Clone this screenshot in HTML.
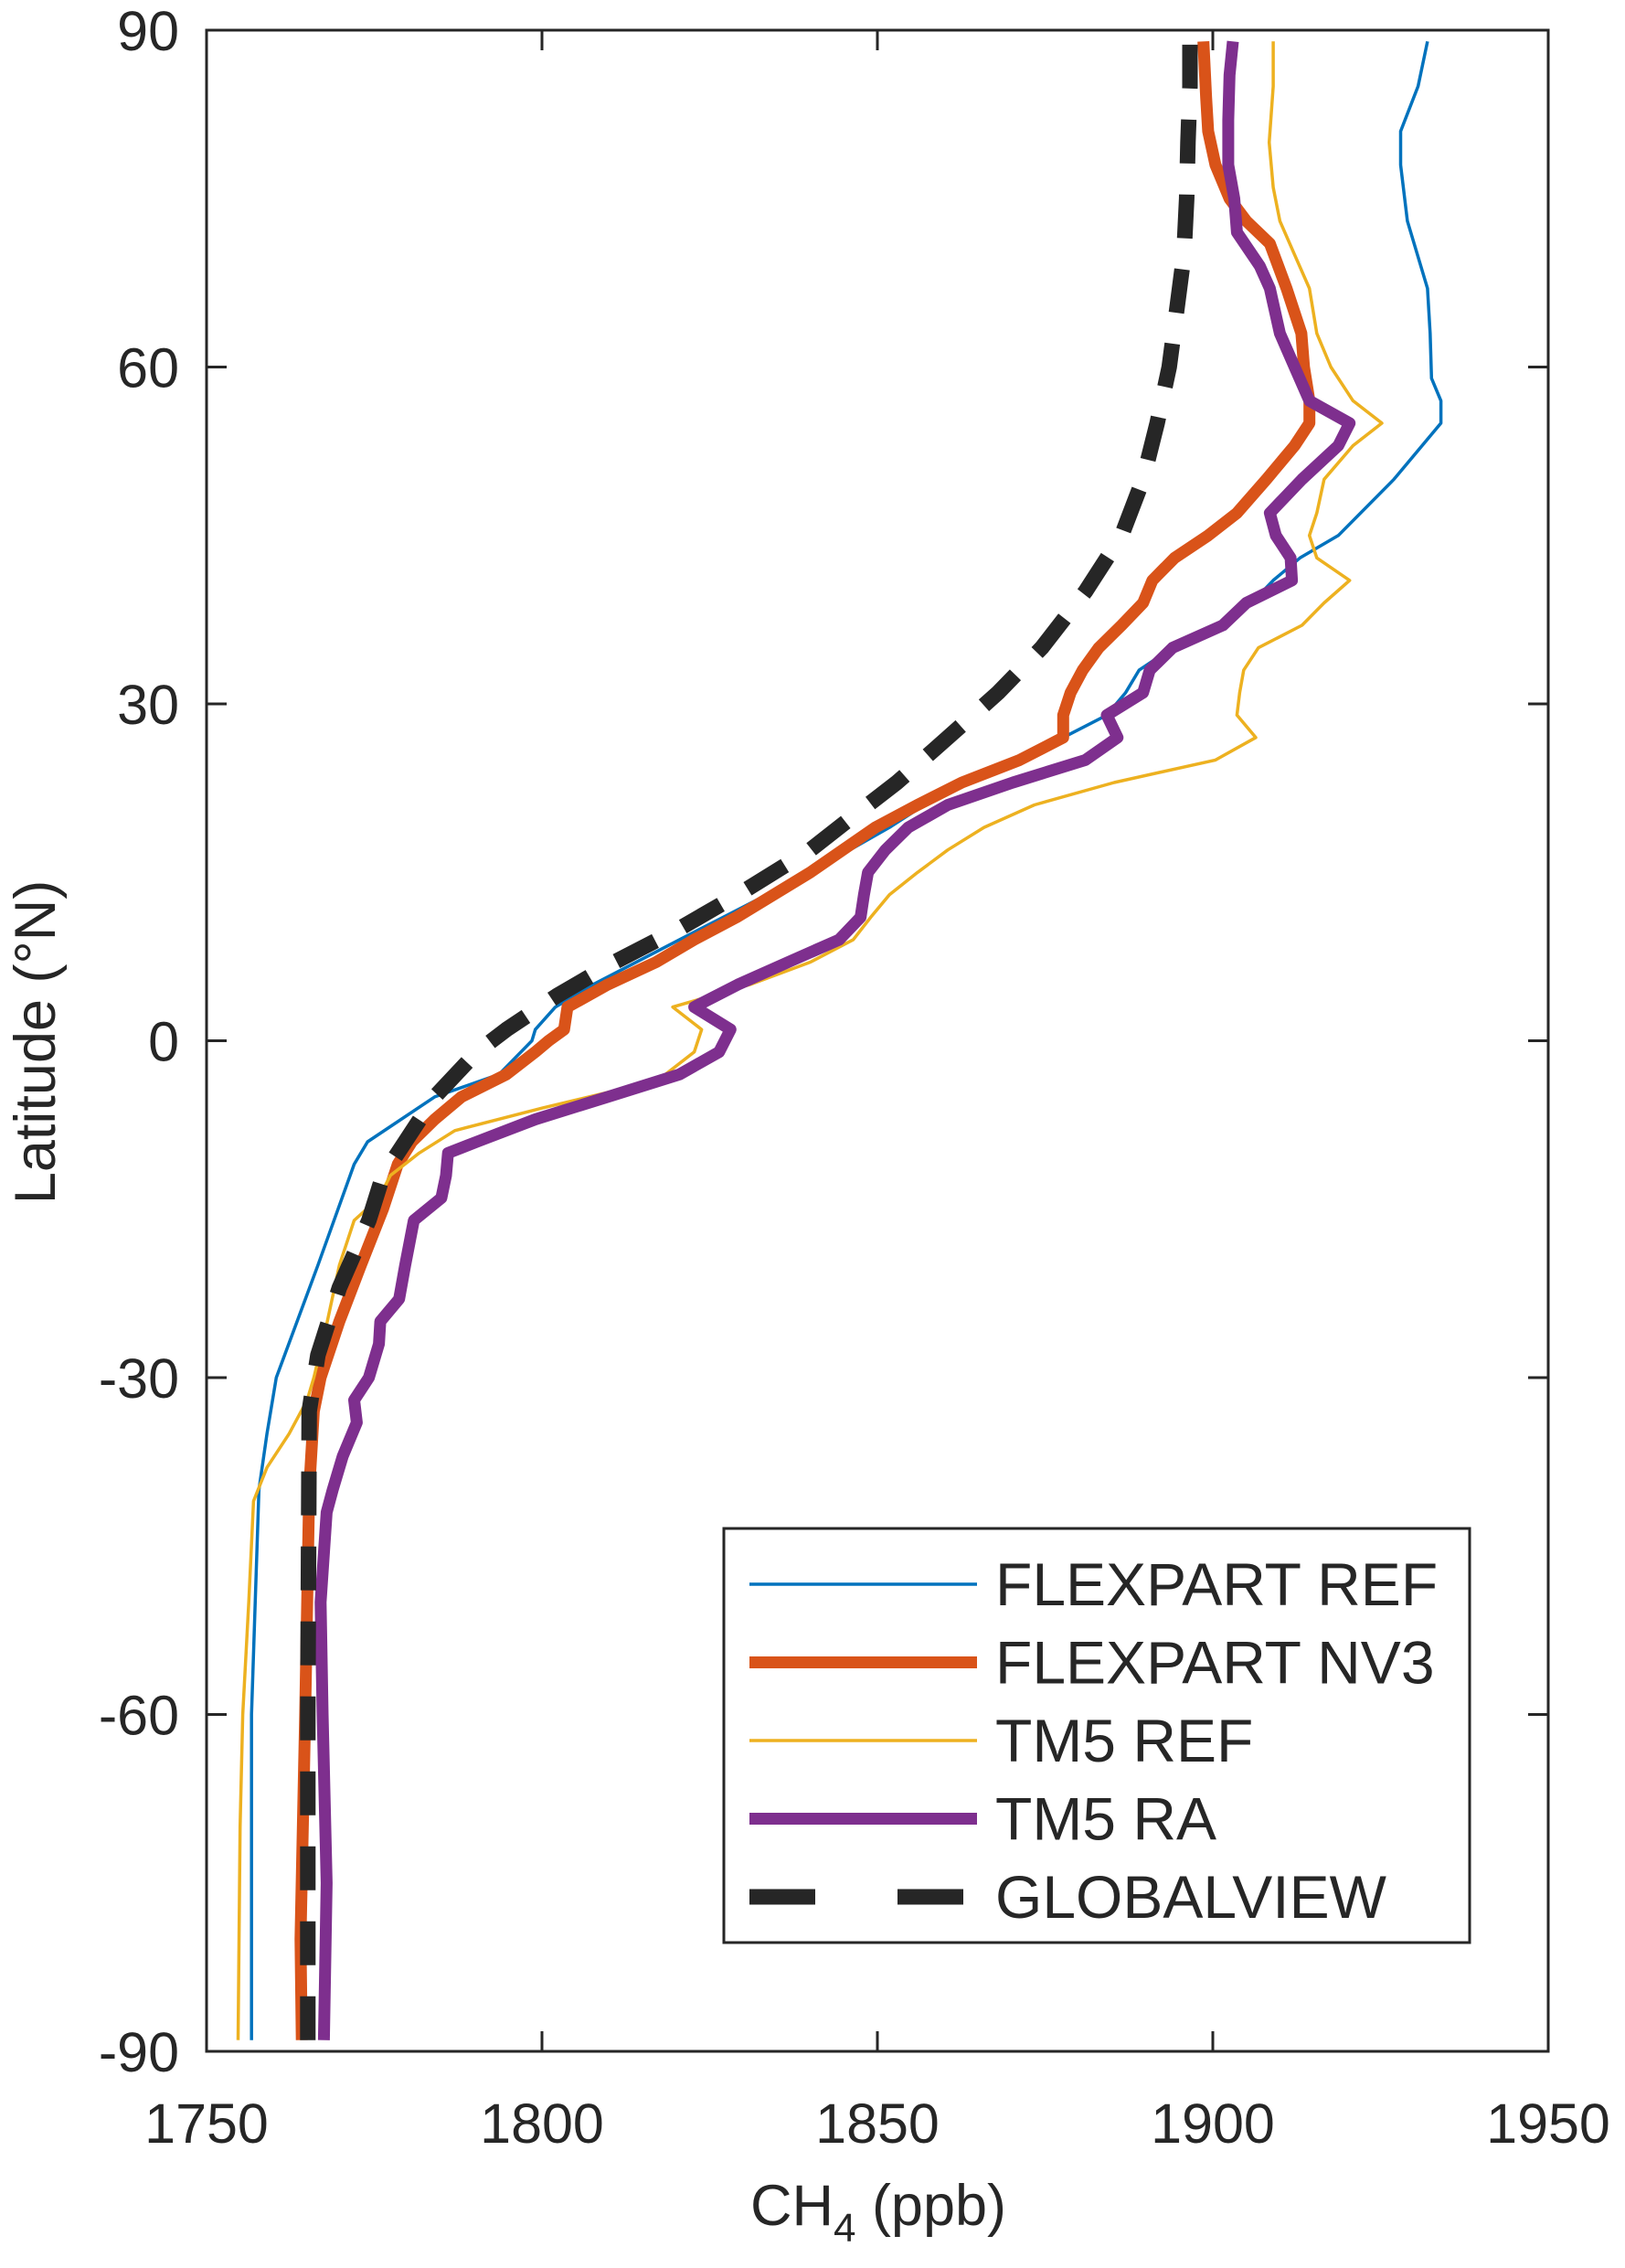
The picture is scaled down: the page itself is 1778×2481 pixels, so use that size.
<!DOCTYPE html>
<html><head><meta charset="utf-8"><style>
html,body{margin:0;padding:0;background:#fff}
svg{display:block}
text{font-family:"Liberation Sans",Arial,sans-serif;fill:#262626}
</style></head><body>
<svg id="chart" width="1778" height="2481" viewBox="0 0 1778 2481" xmlns="http://www.w3.org/2000/svg">
<g id="plot"></g>
<g id="axes"></g>
<g id="legend"></g>
</svg>
<script>
const xTicks=[1750,1800,1850,1900,1950];
const yTicks=[-90,-60,-30,0,30,60,90];
const refLat=[-89,-60,-40,-35,-30,-20,-11,-9,-5,-3,0,1,3,5,9,11,15,19,21,25,27,29,31,33,35,37,39,41,43,45,50,55,57,59,63,67,73,78,81,85,89];
const refVal=[1756.7,1756.7,1757.8,1759,1760.4,1766.6,1772,1774,1784,1793.6,1798.5,1799,1802,1807.6,1820.5,1827,1840,1851.8,1857,1870,1877.7,1884.2,1887,1889,1894,1901,1905.8,1909,1913,1918.7,1927,1934,1934,1932.6,1932.4,1932,1929,1928,1928,1930.6,1932];
const nv3Lat=[-89,-80,-60,-40,-33,-30,-25,-20,-15,-11,-9,-7,-5,-3,-1,0,1,3,5,7,9,11,15,19,21,23,25,27,29,31,33,35,37,39,41,43,45,47,50,53,55,57,60,63,67,71,73,75,78,81,84,89];
const nv3Val=[1764.2,1764,1764.7,1765.3,1766,1767,1769.8,1773,1776.3,1778.5,1780.6,1784,1788,1794.7,1799,1801,1803.3,1803.8,1809.8,1817,1822.7,1829,1840,1849.7,1856,1862.6,1871.2,1877.7,1877.7,1878.8,1880.6,1883,1886.4,1889.6,1891,1894.3,1899.3,1903.6,1908,1912.2,1914.4,1914.4,1913.6,1913.2,1911,1908.5,1905,1902.5,1900.4,1899.3,1899,1898.6];
const tm5Lat=[-89,-70,-60,-50,-41,-38,-35,-32,-30,-25,-20,-16,-14,-12,-10,-8,-6,-4,-3,-1,1,3,5,7,9,11,13,15,17,19,21,23,25,27,29,31,33,35,37,39,41,43,45,47,50,53,55,57,60,63,67,70,73,76,80,85,89];
const tm5Val=[1754.7,1755,1755.4,1756.3,1757,1759,1762.3,1765,1766,1768,1769.8,1772,1775.7,1777.4,1781.7,1787,1800,1814,1818.4,1822.7,1823.8,1819.5,1831,1840,1846.4,1849,1851.8,1856,1860.5,1865.9,1873.4,1885.3,1900.4,1906.4,1903.6,1904,1904.6,1906.8,1913.3,1916.6,1920.4,1915.5,1914.4,1915.5,1916.6,1920.9,1925.2,1920.9,1917.6,1915.5,1914.4,1912.2,1910,1909,1908.4,1909,1909];
const raLat=[-89,-75,-60,-50,-42,-40,-37,-34,-32,-30,-27,-25,-23,-20,-16,-14,-12,-10,-9,-7,-5,-3,-1,1,3,5,7,9,11,13,15,17,19,21,23,25,27,29,31,33,35,37,39,41,43,45,47,50,53,55,57,60,63,67,69,72,75,78,82,86,89];
const raVal=[1767.5,1767.9,1767.3,1767,1767.9,1768.8,1770.3,1772.4,1772,1774.2,1775.7,1775.9,1778.7,1779.6,1780.9,1785,1785.7,1786,1790.3,1799,1809.8,1820.5,1826.4,1828.1,1822.7,1829.2,1836.7,1844.3,1847.5,1848,1848.6,1851.2,1854.6,1860.5,1870.2,1881,1885.8,1884.2,1889.6,1890.6,1894,1901.5,1905,1911.8,1911.6,1909.4,1908.5,1913.3,1918.7,1920.4,1914.4,1912.2,1910,1908.5,1907,1903.6,1903.2,1902.3,1902.3,1902.5,1903];
const gvLat=[-89,-60,-33,-28,-22,-16,-12,-9,-5,-1,1,4,7,10,13,17,20,23,27,31,35,40,45,50,55,60,65,70,75,80,85,89];
const gvVal=[1765.1,1765.1,1765.3,1766.6,1769.8,1774.2,1776.3,1779.6,1784,1790.3,1794.7,1802.2,1810.8,1820.5,1829.2,1840,1846.4,1852.9,1860.5,1868,1874.5,1881,1886.4,1889.6,1891.7,1893.5,1894.6,1895.7,1896.1,1896.3,1896.6,1896.6];
const seriesNames=["FLEXPART REF","FLEXPART NV3","TM5 REF","TM5 RA","GLOBALVIEW"];

const L=226,R=1694,T=33,B=2244;
const sx=v=>L+(v-1750)/200*(R-L);
const sy=v=>B-(v+90)/180*(B-T);
const NS="http://www.w3.org/2000/svg";
function mk(tag,attrs,parent){const e=document.createElementNS(NS,tag);for(const k in attrs)e.setAttribute(k,attrs[k]);parent.appendChild(e);return e;}
const plot=document.getElementById('plot'),axes=document.getElementById('axes'),leg=document.getElementById('legend');
const styles=[
 {lat:refLat,val:refVal,c:"#0072BD",w:3.5,d:null,n:"flexpart-ref-line"},
 {lat:nv3Lat,val:nv3Val,c:"#D95319",w:13,d:null,n:"flexpart-nv3-line"},
 {lat:tm5Lat,val:tm5Val,c:"#EDB120",w:3.5,d:null,n:"tm5-ref-line"},
 {lat:raLat,val:raVal,c:"#7E2F8E",w:13,d:null,n:"tm5-ra-line"},
 {lat:gvLat,val:gvVal,c:"#262626",w:17,d:"48,34",n:"globalview-line"}];
styles.forEach(s=>{
 const pts=s.lat.map((la,i)=>sx(s.val[i]).toFixed(1)+","+sy(la).toFixed(1)).join(" ");
 const p=mk('polyline',{points:pts,fill:"none",stroke:s.c,"stroke-width":s.w,"stroke-linejoin":"round"},plot);
 if(s.d)p.setAttribute('stroke-dasharray',s.d);
 
 
});
const box=mk('rect',{x:L,y:T,width:R-L,height:B-T,fill:"none",stroke:"#262626","stroke-width":3},axes);


xTicks.forEach(v=>{
 const x=sx(v);
 mk('line',{x1:x,y1:B,x2:x,y2:B-22,stroke:"#262626","stroke-width":3},axes);
 mk('line',{x1:x,y1:T,x2:x,y2:T+22,stroke:"#262626","stroke-width":3},axes);
 const t=mk('text',{x:x,y:B+100,"font-size":61,"text-anchor":"middle"},axes);t.textContent=v;
 
 
});
yTicks.forEach(v=>{
 const y=sy(v);
 mk('line',{x1:L,y1:y,x2:L+22,y2:y,stroke:"#262626","stroke-width":3},axes);
 mk('line',{x1:R,y1:y,x2:R-22,y2:y,stroke:"#262626","stroke-width":3},axes);
 const t=mk('text',{x:196,y:y+22,"font-size":61,"text-anchor":"end"},axes);t.textContent=v;
 
 
});
const xl=mk('text',{x:961,y:2434,"font-size":63,"text-anchor":"middle"},axes);
xl.innerHTML='CH<tspan font-size="44" dy="18">4</tspan><tspan dy="-18"> (ppb)</tspan>';


const yl=mk('text',{x:0,y:0,"font-size":63,"text-anchor":"middle",transform:"translate(60,1140) rotate(-90)"},axes);
yl.textContent='Latitude (\u00B0N)';


const lb=mk('rect',{x:792,y:1672,width:816,height:453,fill:"#fff",stroke:"#262626","stroke-width":3},leg);


seriesNames.forEach((nm,i)=>{
 const y=1733+i*85.5,s=styles[i];
 const ln=mk('line',{x1:820,y1:y,x2:1069,y2:y,stroke:s.c,"stroke-width":s.w},leg);
 if(s.d)ln.setAttribute('stroke-dasharray',"72,90");
 
 
 const t=mk('text',{x:1089,y:y+23,"font-size":66},leg);t.textContent=nm;
 
 
});
</script>
</body></html>
